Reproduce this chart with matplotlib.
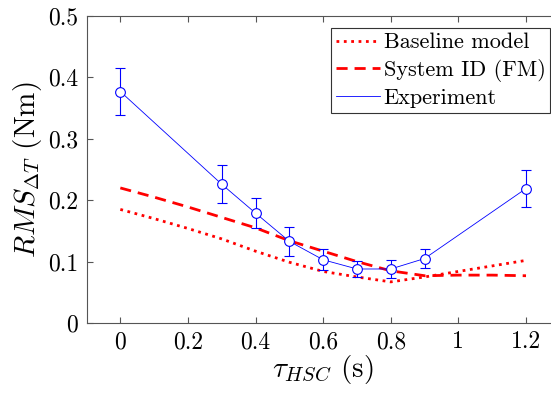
import matplotlib
matplotlib.use("Agg")
import numpy as np
import matplotlib.pyplot as plt
from matplotlib.lines import Line2D

# Computer Modern look (LaTeX-style text)
plt.rcParams['font.family'] = 'serif'
plt.rcParams['font.serif'] = ['cmr10']
plt.rcParams['mathtext.fontset'] = 'cm'
plt.rcParams['axes.formatter.use_mathtext'] = True
plt.rcParams['axes.unicode_minus'] = False

# model curves
tau_model = [0, 0.1, 0.2, 0.3, 0.4, 0.5, 0.6, 0.7, 0.8, 0.9, 1.0, 1.1, 1.2]
baseline = [0.185, 0.170, 0.154, 0.137, 0.117, 0.099, 0.084, 0.075, 0.067, 0.075, 0.084, 0.093, 0.102]
sysid = [0.220, 0.205, 0.189, 0.172, 0.155, 0.134, 0.117, 0.100, 0.085, 0.077, 0.078, 0.078, 0.077]

# experiment
tau_exp = [0, 0.3, 0.4, 0.5, 0.6, 0.7, 0.8, 0.9, 1.2]
rms_exp = [0.377, 0.226, 0.179, 0.133, 0.103, 0.088, 0.088, 0.105, 0.219]
err_exp = [0.039, 0.031, 0.025, 0.024, 0.017, 0.013, 0.015, 0.015, 0.030]

fig = plt.figure(figsize=(5.51, 3.96), dpi=100)
ax = fig.add_axes([0.157, 0.1843, 0.859, 0.7753])

l1, = ax.plot(tau_model, baseline, ':', color='red', lw=2, label='Baseline model')
l2, = ax.plot(tau_model, sysid, '--', color='red', lw=2, dashes=(4, 2.5), label='System ID (FM)')
ax.errorbar(tau_exp, rms_exp, yerr=err_exp, color='blue', lw=0.6, marker='o',
            ms=7, mfc='white', mec='blue', mew=0.8, elinewidth=0.8, capsize=3.5,
            capthick=0.8)
l3 = Line2D([], [], color='blue', lw=0.6, label='Experiment')

ax.set_xlim(-0.1, 1.3)
ax.set_ylim(0, 0.5)
ax.set_xticks([0, 0.2, 0.4, 0.6, 0.8, 1, 1.2])
ax.set_xticklabels(['0', '0.2', '0.4', '0.6', '0.8', '1', '1.2'])
ax.set_yticks([0, 0.1, 0.2, 0.3, 0.4, 0.5])
ax.set_yticklabels(['0', '0.1', '0.2', '0.3', '0.4', '0.5'])
ax.tick_params(direction='in', top=True, right=True, labelsize=17,
               color='#555555', length=4, pad=6)
for s in ax.spines.values():
    s.set_color('#555555')
    s.set_linewidth(0.8)

ax.set_xlabel(r'$\tau_{HSC}$ (s)', fontsize=21, labelpad=0)
ax.set_ylabel(r'$RMS_{\Delta T}$ (Nm)', fontsize=21, labelpad=3)

leg = ax.legend(handles=[l1, l2, l3], loc='upper left', bbox_to_anchor=(0.5175, 0.96),
                fontsize=16, fancybox=False, framealpha=1, edgecolor='#333333',
                handlelength=2.0, handletextpad=0.15, borderpad=0.2,
                labelspacing=0.3, borderaxespad=0)
leg.get_frame().set_linewidth(0.8)

fig.savefig('out.png', dpi=100)
